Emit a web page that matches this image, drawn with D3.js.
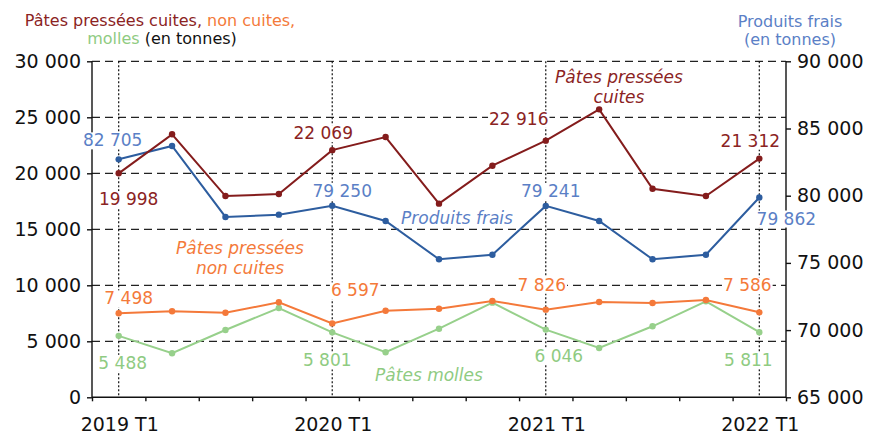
<!DOCTYPE html>
<meta charset="utf-8">
<head>
<script src="https://d3js.org/d3.v7.min.js"></script>
<style>
    body { margin: 0; background: #fff; }
    text { font-family: "DejaVu Sans", Verdana, sans-serif; }
    .grid line { stroke: #222; stroke-width: 1.3px; stroke-dasharray: 8,5; }
    .vline { stroke: #111; stroke-width: 1.2px; stroke-dasharray: 2,2; }
    .axis path, .axis line { stroke: #111; stroke-width: 1.4px; }
    .axis text { font-size: 19px; fill: #111; }
</style>
</head>
<body>
<svg id="chart" width="870" height="434"></svg>

<script>
    // quarters on the x axis
    var quarters = ["2019 T1", "2019 T2", "2019 T3", "2019 T4",
                    "2020 T1", "2020 T2", "2020 T3", "2020 T4",
                    "2021 T1", "2021 T2", "2021 T3", "2021 T4",
                    "2022 T1"];
    var quarterLabels = ["2019 T1", "2020 T1", "2021 T1", "2022 T1"];

    // tonnes per quarter
    var cuites     = [19998, 23480, 17970, 18150, 22069, 23240, 17290, 20680, 22916, 25710, 18620, 17970, 21312];
    var nonCuites  = [7498, 7680, 7550, 8480, 6597, 7730, 7910, 8600, 7826, 8510, 8420, 8690, 7586];
    var molles     = [5488, 3930, 6010, 7970, 5801, 4020, 6125, 8450, 6046, 4400, 6340, 8570, 5811];
    var frais      = [82705, 83700, 78420, 78590, 79250, 78120, 75270, 75610, 79241, 78120, 75270, 75610, 79862];

    var leftTicks  = [0, 5000, 10000, 15000, 20000, 25000, 30000];
    var rightTicks = [65000, 70000, 75000, 80000, 85000, 90000];

    var svg = d3.select("#chart");
    var pLeft = 92, pRight = 786, pTop = 61.3, pBottom = 397.3;

    var fr = d3.formatLocale({ decimal: ",", thousands: "\u00a0", grouping: [3] });
    var fmt = fr.format(",");

    var x = d3.scaleBand().domain(quarters).range([pLeft, pRight]).padding(0);
    var xb = d3.scaleLinear().domain([0, quarters.length]).range([pLeft, pRight]);
    var yL = d3.scaleLinear().domain([0, 30000]).range([pBottom, pTop]);
    var yR = d3.scaleLinear().domain([65000, 90000]).range([pBottom, pTop]);
    var cx = function(i) { return x(quarters[i]) + x.bandwidth() / 2; };

    // dashed horizontal grid (left axis values)
    svg.append("g").attr("class", "grid")
      .selectAll("line")
      .data(leftTicks.filter(function(d) { return d > 0; }))
      .enter().append("line")
      .attr("x1", pLeft).attr("x2", pRight)
      .attr("y1", function(d) { return yL(d); })
      .attr("y2", function(d) { return yL(d); });

    // dotted verticals at each T1
    svg.append("g").selectAll("line")
      .data(quarterLabels)
      .enter().append("line")
      .attr("class", "vline")
      .attr("x1", function(d) { return x(d) + x.bandwidth() / 2; })
      .attr("x2", function(d) { return x(d) + x.bandwidth() / 2; })
      .attr("y1", pTop).attr("y2", pBottom);

    // axes
    svg.append("g").attr("class", "axis")
      .attr("transform", "translate(" + pLeft + ",0)")
      .call(d3.axisLeft(yL).tickValues(leftTicks).tickSize(5).tickPadding(6).tickFormat(fmt))
      .call(function(g) { g.select(".domain").attr("d", "M0," + pTop + "V" + pBottom); });

    svg.append("g").attr("class", "axis")
      .attr("transform", "translate(" + pRight + ",0)")
      .call(d3.axisRight(yR).tickValues(rightTicks).tickSize(5).tickPadding(6).tickFormat(fmt))
      .call(function(g) { g.select(".domain").attr("d", "M0," + pTop + "V" + pBottom); });

    svg.append("g").attr("class", "axis")
      .attr("transform", "translate(0," + pBottom + ")")
      .call(d3.axisBottom(xb).tickValues(d3.range(quarters.length + 1)).tickSize(4).tickFormat(""))
      .call(function(g) { g.select(".domain").attr("d", "M" + pLeft + ",0H" + pRight); });

    svg.append("g").attr("class", "axis")
      .selectAll("text")
      .data(quarterLabels)
      .enter().append("text")
      .attr("x", function(d) { return x(d) + x.bandwidth() / 2 + 1; })
      .attr("y", 431)
      .attr("text-anchor", "middle")
      .text(function(d) { return d; });

    // series
    var series = [
      { name: "cuites", values: cuites, y: yL, color: "#841c1c", text: "#8b2323" },
      { name: "frais", values: frais, y: yR, color: "#2d5d9f", text: "#5b7fc6" },
      { name: "nonCuites", values: nonCuites, y: yL, color: "#f4793a", text: "#f47a3a" },
      { name: "molles", values: molles, y: yL, color: "#97d08b", text: "#8fcb82" }
    ];

    series.slice().reverse().forEach(function(s) {
      var line = d3.line()
        .x(function(d, i) { return cx(i); })
        .y(function(d) { return s.y(d); });
      svg.append("path")
        .datum(s.values)
        .attr("fill", "none")
        .attr("stroke", s.color)
        .attr("stroke-width", 2)
        .attr("d", line);
      svg.append("g").selectAll("circle")
        .data(s.values)
        .enter().append("circle")
        .attr("cx", function(d, i) { return cx(i); })
        .attr("cy", function(d) { return s.y(d); })
        .attr("r", 3.2)
        .attr("fill", s.color);
    });

    // value labels with white boxes
    var labelOffsets = {
      cuites:    [[10, 32], [-9, -11], [-27, -16], [-9, -12]],
      frais:     [[-6, -13], [10, -9], [5, -9], [27, 27]],
      nonCuites: [[10, -9], [23, -27], [-4, -19], [-12, -21]],
      molles:    [[4, 33], [-5, 34], [13, 32], [-11, 34]]
    };
    var labelLayer = svg.append("g");
    series.forEach(function(s) {
      [0, 4, 8, 12].forEach(function(idx, k) {
        var off = labelOffsets[s.name][k];
        var g = labelLayer.append("g");
        var t = g.append("text")
          .attr("x", cx(idx) + off[0])
          .attr("y", s.y(s.values[idx]) + off[1])
          .attr("text-anchor", "middle")
          .attr("font-size", "17px")
          .attr("fill", s.text)
          .text(fmt(s.values[idx]));
        var b = t.node().getBBox();
        g.insert("rect", "text")
          .attr("x", b.x - 1).attr("y", b.y + 2)
          .attr("width", b.width + 2).attr("height", b.height - 3)
          .attr("fill", "#fff");
      });
    });

    // series names
    function note(lines, xc, y0, color) {
      var t = svg.append("text")
        .attr("font-size", "17px")
        .attr("font-style", "italic")
        .attr("text-anchor", "middle")
        .attr("fill", color);
      lines.forEach(function(l, i) {
        t.append("tspan").attr("x", xc).attr("y", y0 + i * 19.5).text(l);
      });
    }
    note(["Pâtes pressées", "cuites"], 619, 83, "#8b2323");
    note(["Produits frais"], 457, 224, "#5b7fc6");
    note(["Pâtes pressées", "non cuites"], 240, 254, "#f47a3a");
    note(["Pâtes molles"], 429, 381, "#8fcb82");

    // axis titles
    var tl = svg.append("text").attr("font-size", "16px").attr("text-anchor", "middle");
    var l1 = tl.append("tspan").attr("x", 160).attr("y", 26);
    l1.append("tspan").attr("fill", "#8b2323").text("Pâtes pressées cuites, ");
    l1.append("tspan").attr("fill", "#f47a3a").text("non cuites,");
    var l2 = tl.append("tspan").attr("x", 162).attr("y", 44);
    l2.append("tspan").attr("fill", "#8fcb82").text("molles ");
    l2.append("tspan").attr("fill", "#111").text("(en tonnes)");

    var tr = svg.append("text").attr("font-size", "16px").attr("text-anchor", "middle").attr("fill", "#5b7fc6");
    tr.append("tspan").attr("x", 790).attr("y", 27).text("Produits frais");
    tr.append("tspan").attr("x", 790).attr("y", 45).text("(en tonnes)");
</script>
</body>
